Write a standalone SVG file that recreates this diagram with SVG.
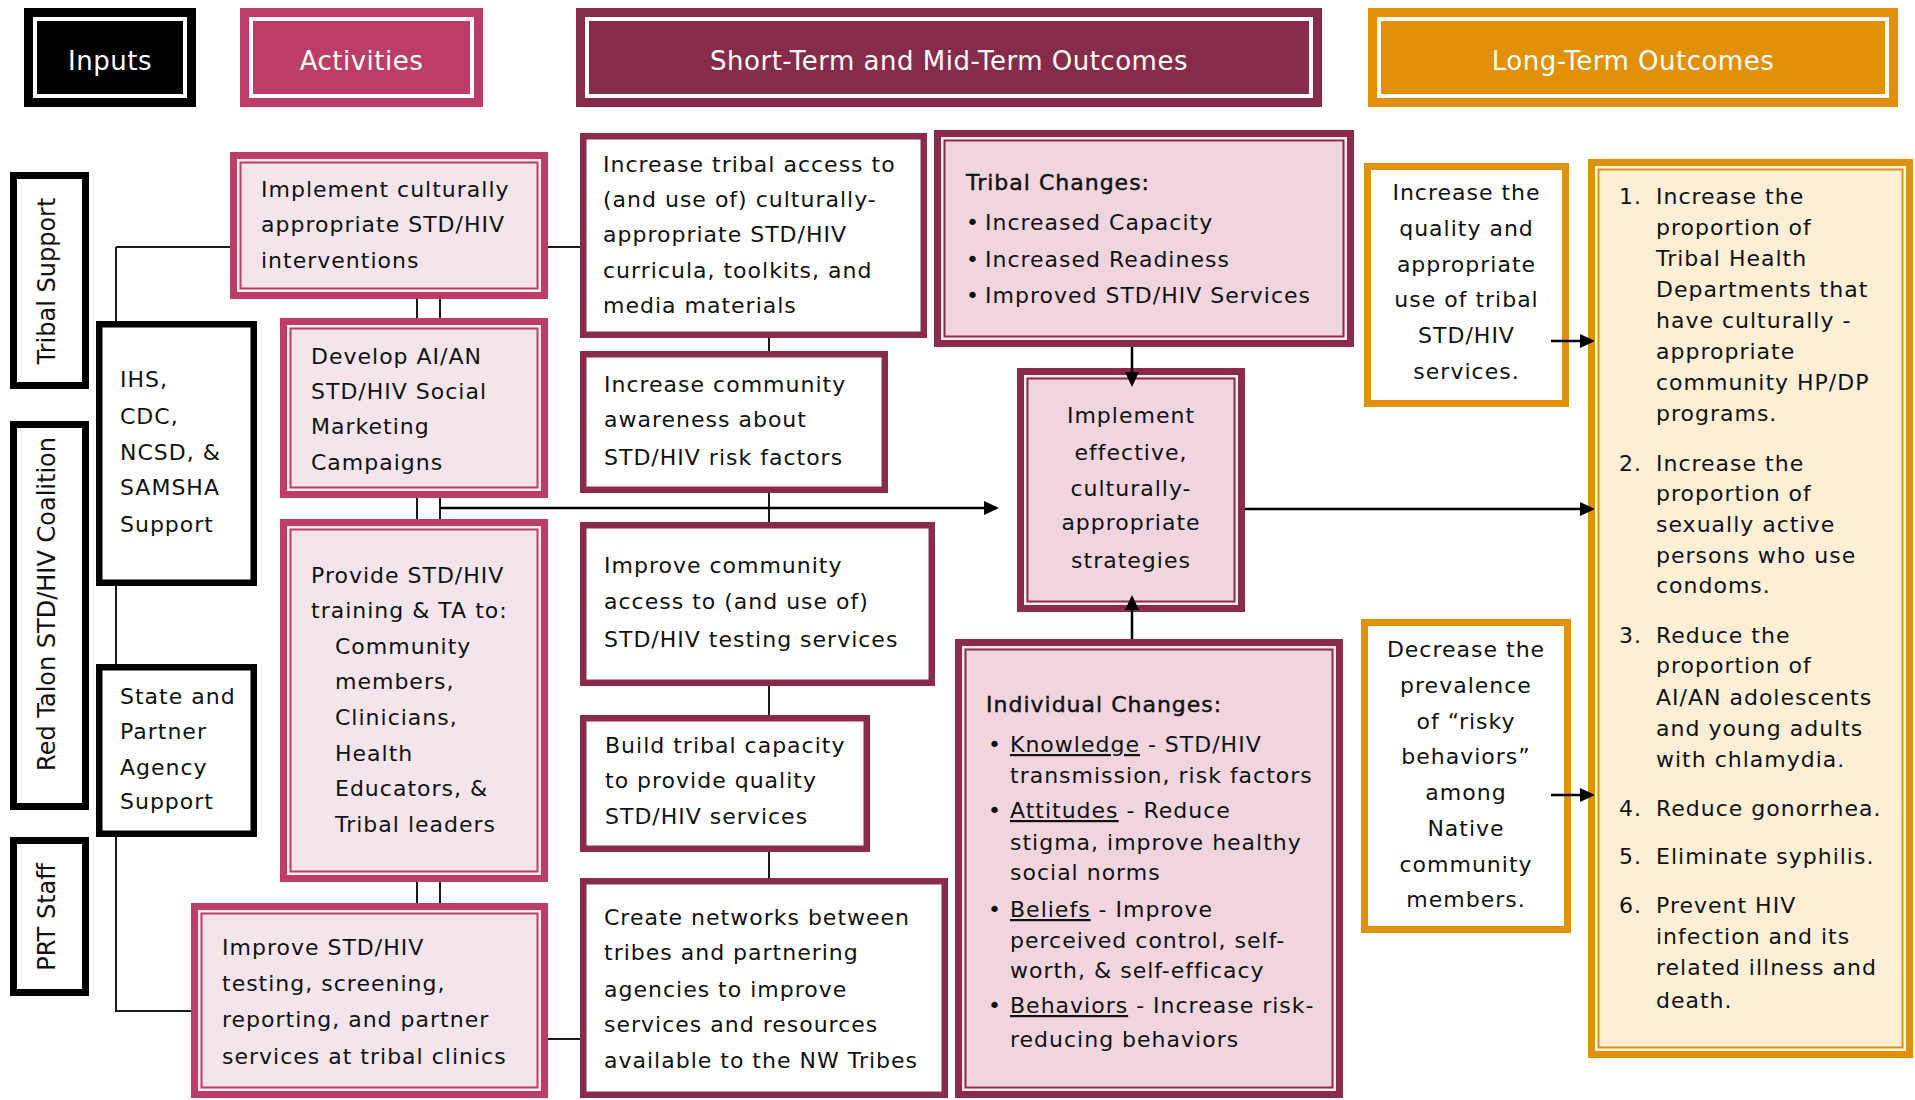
<svg xmlns="http://www.w3.org/2000/svg" width="1915" height="1100" viewBox="0 0 1915 1100">
<style>
text { font-family: "DejaVu Sans", Verdana, sans-serif; fill: #111; }
.t { font-size: 22px; letter-spacing: 1px; }
.c { text-anchor: middle; }
.h { font-size: 26px; letter-spacing: 0.5px; fill: #fff; text-anchor: middle; }
.v { font-size: 24px; text-anchor: middle; }
.sb { stroke: #111; stroke-width: 0.45px; }
.hin { fill: none; stroke: #fff; stroke-width: 4; }
.side { fill: #fff; stroke: #000; stroke-width: 7; }
.inp { fill: #fff; stroke: #000; stroke-width: 6.5; }
.pk { fill: #BC3D68; }
.pkg { fill: #FAF0F4; }
.pki { fill: #F4E4EC; stroke: #BC3D68; stroke-width: 2; }
.mr { fill: #8A2B4C; }
.mrg { fill: #F8ECF0; }
.mri { fill: #F0D5DF; stroke: #8A2B4C; stroke-width: 2; }
.mrp { fill: #fff; stroke: #8A2B4C; stroke-width: 6.5; }
.or { fill: #E09108; }
.org { fill: #FFF8EE; }
.ori { fill: #FDEED6; stroke: #E09108; stroke-width: 2; }
.orp { fill: #fff; stroke: #E09108; stroke-width: 7; }
.ln { stroke: #1a1a1a; stroke-width: 2; fill: none; }
.ar { stroke: #000; stroke-width: 2.5; fill: none; marker-end: url(#ah); }
</style>
<defs>
<marker id="ah" markerUnits="userSpaceOnUse" markerWidth="16" markerHeight="14" refX="12" refY="7" orient="auto">
<path d="M0,0 L15,7 L0,14 Z" fill="#000"/>
</marker>
</defs>

<!-- Headers -->
<g id="hdr-inputs">
<rect x="24" y="8" width="172" height="99" fill="#000"/>
<rect class="hin" x="35" y="19" width="150" height="77"/>
<text class="h" x="110" y="70">Inputs</text>
</g>
<g id="hdr-activities">
<rect x="240" y="8" width="243" height="99" fill="#BC3D68"/>
<rect class="hin" x="251" y="19" width="221" height="77"/>
<text class="h" x="361.5" y="70">Activities</text>
</g>
<g id="hdr-short">
<rect x="576" y="8" width="746" height="99" fill="#872B4B"/>
<rect class="hin" x="587" y="19" width="724" height="77"/>
<text class="h" x="949" y="70">Short-Term and Mid-Term Outcomes</text>
</g>
<g id="hdr-long">
<rect x="1368" y="8" width="530" height="99" fill="#E09108"/>
<rect class="hin" x="1379" y="19" width="508" height="77"/>
<text class="h" x="1633" y="70">Long-Term Outcomes</text>
</g>

<!-- Side labels -->
<g id="side-tribal">
<rect class="side" x="13.5" y="175.5" width="72" height="210"/>
<text class="v" transform="rotate(-90 55 281)" x="55" y="281">Tribal Support</text>
</g>
<g id="side-redtalon">
<rect class="side" x="13.5" y="424.5" width="72" height="382"/>
<text class="v" transform="rotate(-90 55 604)" x="55" y="604">Red Talon STD/HIV Coalition</text>
</g>
<g id="side-prt">
<rect class="side" x="13.5" y="840.5" width="72" height="152"/>
<text class="v" transform="rotate(-90 55 917)" x="55" y="917">PRT Staff</text>
</g>

<!-- Inputs -->
<g id="in-ihs">
<rect class="inp" x="99.25" y="324.25" width="154.5" height="258.5"/>
<text class="t"><tspan x="120" y="387">IHS,</tspan><tspan x="120" y="424">CDC,</tspan><tspan x="120" y="460">NCSD, &amp;</tspan><tspan x="120" y="495">SAMSHA</tspan><tspan x="120" y="532">Support</tspan></text>
</g>
<g id="in-state">
<rect class="inp" x="99.25" y="667.25" width="154.5" height="166.5"/>
<text class="t"><tspan x="120" y="704">State and</tspan><tspan x="120" y="739">Partner</tspan><tspan x="120" y="775">Agency</tspan><tspan x="120" y="809">Support</tspan></text>
</g>

<!-- Activities -->
<g id="act-implement">
<rect class="pk" x="230" y="152" width="318" height="147"/>
<rect class="pkg" x="237" y="159" width="304" height="133"/>
<rect class="pki" x="240.5" y="162.5" width="297" height="126"/>
<text class="t"><tspan x="261" y="197">Implement culturally</tspan><tspan x="261" y="232">appropriate STD/HIV</tspan><tspan x="261" y="268">interventions</tspan></text>
</g>
<g id="act-develop">
<rect class="pk" x="280" y="318" width="268" height="180"/>
<rect class="pkg" x="287" y="325" width="254" height="166"/>
<rect class="pki" x="290.5" y="328.5" width="247" height="159"/>
<text class="t"><tspan x="311" y="364">Develop AI/AN</tspan><tspan x="311" y="399">STD/HIV Social</tspan><tspan x="311" y="434">Marketing</tspan><tspan x="311" y="470">Campaigns</tspan></text>
</g>
<g id="act-provide">
<rect class="pk" x="280" y="519" width="268" height="363"/>
<rect class="pkg" x="287" y="526" width="254" height="349"/>
<rect class="pki" x="290.5" y="529.5" width="247" height="342"/>
<text class="t"><tspan x="311" y="583">Provide STD/HIV</tspan><tspan x="311" y="618">training &amp; TA to:</tspan><tspan x="335" y="654">Community</tspan><tspan x="335" y="689">members,</tspan><tspan x="335" y="725">Clinicians,</tspan><tspan x="335" y="761">Health</tspan><tspan x="335" y="796">Educators, &amp;</tspan><tspan x="335" y="832">Tribal leaders</tspan></text>
</g>
<g id="act-improve">
<rect class="pk" x="191" y="903" width="357" height="195"/>
<rect class="pkg" x="198" y="910" width="343" height="181"/>
<rect class="pki" x="201.5" y="913.5" width="336" height="174"/>
<text class="t"><tspan x="222" y="955">Improve STD/HIV</tspan><tspan x="222" y="991">testing, screening,</tspan><tspan x="222" y="1027">reporting, and partner</tspan><tspan x="222" y="1064">services at tribal clinics</tspan></text>
</g>

<!-- Short / mid-term outcomes -->
<g id="out-access">
<rect class="mrp" x="583.25" y="136.25" width="340.5" height="198.5"/>
<text class="t"><tspan x="603" y="172">Increase tribal access to</tspan><tspan x="603" y="207">(and use of) culturally-</tspan><tspan x="603" y="242">appropriate STD/HIV</tspan><tspan x="603" y="278">curricula, toolkits, and</tspan><tspan x="603" y="313">media materials</tspan></text>
</g>
<g id="out-awareness">
<rect class="mrp" x="583.25" y="354.25" width="301.5" height="135.5"/>
<text class="t"><tspan x="604" y="392">Increase community</tspan><tspan x="604" y="427">awareness about</tspan><tspan x="604" y="465">STD/HIV risk factors</tspan></text>
</g>
<g id="out-testing">
<rect class="mrp" x="583.25" y="525.25" width="348.5" height="157.5"/>
<text class="t"><tspan x="604" y="573">Improve community</tspan><tspan x="604" y="609">access to (and use of)</tspan><tspan x="604" y="647">STD/HIV testing services</tspan></text>
</g>
<g id="out-capacity">
<rect class="mrp" x="583.25" y="718.25" width="283.5" height="130.5"/>
<text class="t"><tspan x="605" y="753">Build tribal capacity</tspan><tspan x="605" y="788">to provide quality</tspan><tspan x="605" y="824">STD/HIV services</tspan></text>
</g>
<g id="out-networks">
<rect class="mrp" x="583.25" y="881.25" width="361.5" height="213.5"/>
<text class="t"><tspan x="604" y="925">Create networks between</tspan><tspan x="604" y="960">tribes and partnering</tspan><tspan x="604" y="997">agencies to improve</tspan><tspan x="604" y="1032">services and resources</tspan><tspan x="604" y="1068">available to the NW Tribes</tspan></text>
</g>
<g id="out-tribal-changes">
<rect class="mr" x="934" y="130" width="420" height="217"/>
<rect class="mrg" x="941" y="137" width="406" height="203"/>
<rect class="mri" x="944.5" y="140.5" width="399" height="196"/>
<text class="t sb" x="966" y="190">Tribal Changes:</text>
<text class="t"><tspan x="966" y="230">•</tspan><tspan x="985" y="230">Increased Capacity</tspan><tspan x="966" y="267">•</tspan><tspan x="985" y="267">Increased Readiness</tspan><tspan x="966" y="303">•</tspan><tspan x="985" y="303">Improved STD/HIV Services</tspan></text>
</g>
<g id="out-strategies">
<rect class="mr" x="1017" y="368" width="228" height="244"/>
<rect class="mrg" x="1024" y="375" width="214" height="230"/>
<rect class="mri" x="1027.5" y="378.5" width="207" height="223"/>
<text class="t c"><tspan x="1131" y="423">Implement</tspan><tspan x="1131" y="460">effective,</tspan><tspan x="1131" y="496">culturally-</tspan><tspan x="1131" y="530">appropriate</tspan><tspan x="1131" y="568">strategies</tspan></text>
</g>
<g id="out-individual-changes">
<rect class="mr" x="955" y="639" width="388" height="459"/>
<rect class="mrg" x="962" y="646" width="374" height="445"/>
<rect class="mri" x="965.5" y="649.5" width="367" height="438"/>
<text class="t sb" x="986" y="712">Individual Changes:</text>
<text class="t">
<tspan x="988" y="752">•</tspan><tspan x="1010" y="752"><tspan text-decoration="underline">Knowledge</tspan> - STD/HIV</tspan>
<tspan x="1010" y="783">transmission, risk factors</tspan>
<tspan x="988" y="818">•</tspan><tspan x="1010" y="818"><tspan text-decoration="underline">Attitudes</tspan> - Reduce</tspan>
<tspan x="1010" y="850">stigma, improve healthy</tspan>
<tspan x="1010" y="880">social norms</tspan>
<tspan x="988" y="917">•</tspan><tspan x="1010" y="917"><tspan text-decoration="underline">Beliefs</tspan> - Improve</tspan>
<tspan x="1010" y="948">perceived control, self-</tspan>
<tspan x="1010" y="978">worth, &amp; self-efficacy</tspan>
<tspan x="988" y="1013">•</tspan><tspan x="1010" y="1013"><tspan text-decoration="underline">Behaviors</tspan> - Increase risk-</tspan>
<tspan x="1010" y="1047">reducing behaviors</tspan>
</text>
</g>

<!-- Long-term outcomes -->
<g id="lt-quality">
<rect class="orp" x="1367.5" y="166.5" width="198" height="237"/>
<text class="t c"><tspan x="1466.5" y="200">Increase the</tspan><tspan x="1466.5" y="236">quality and</tspan><tspan x="1466.5" y="272">appropriate</tspan><tspan x="1466.5" y="307">use of tribal</tspan><tspan x="1466.5" y="343">STD/HIV</tspan><tspan x="1466.5" y="379">services.</tspan></text>
</g>
<g id="lt-risky">
<rect class="orp" x="1364.5" y="622.5" width="203" height="307"/>
<text class="t c"><tspan x="1466" y="657">Decrease the</tspan><tspan x="1466" y="693">prevalence</tspan><tspan x="1466" y="729">of “risky</tspan><tspan x="1466" y="764">behaviors”</tspan><tspan x="1466" y="800">among</tspan><tspan x="1466" y="836">Native</tspan><tspan x="1466" y="872">community</tspan><tspan x="1466" y="907">members.</tspan></text>
</g>
<g id="lt-goals">
<rect class="or" x="1588" y="159" width="325" height="899"/>
<rect class="org" x="1595" y="166" width="311" height="885"/>
<rect class="ori" x="1598.5" y="169.5" width="304" height="878"/>
<text class="t">
<tspan x="1619" y="204">1.</tspan><tspan x="1656" y="204">Increase the</tspan>
<tspan x="1656" y="235">proportion of</tspan>
<tspan x="1656" y="266">Tribal Health</tspan>
<tspan x="1656" y="297">Departments that</tspan>
<tspan x="1656" y="328">have culturally -</tspan>
<tspan x="1656" y="359">appropriate</tspan>
<tspan x="1656" y="390">community HP/DP</tspan>
<tspan x="1656" y="421">programs.</tspan>
<tspan x="1619" y="471">2.</tspan><tspan x="1656" y="471">Increase the</tspan>
<tspan x="1656" y="501">proportion of</tspan>
<tspan x="1656" y="532">sexually active</tspan>
<tspan x="1656" y="563">persons who use</tspan>
<tspan x="1656" y="593">condoms.</tspan>
<tspan x="1619" y="643">3.</tspan><tspan x="1656" y="643">Reduce the</tspan>
<tspan x="1656" y="673">proportion of</tspan>
<tspan x="1656" y="705">AI/AN adolescents</tspan>
<tspan x="1656" y="736">and young adults</tspan>
<tspan x="1656" y="767">with chlamydia.</tspan>
<tspan x="1619" y="816">4.</tspan><tspan x="1656" y="816">Reduce gonorrhea.</tspan>
<tspan x="1619" y="864">5.</tspan><tspan x="1656" y="864">Eliminate syphilis.</tspan>
<tspan x="1619" y="913">6.</tspan><tspan x="1656" y="913">Prevent HIV</tspan>
<tspan x="1656" y="944">infection and its</tspan>
<tspan x="1656" y="975">related illness and</tspan>
<tspan x="1656" y="1008">death.</tspan>
</text>
</g>

<!-- Connectors -->
<g id="connectors">
<path class="ln" d="M116,247 H230 M116,247 V321 M116,586 V664 M116,837 V1011 H191"/>
<path class="ln" d="M417,299 V318 M440,299 V318 M417,498 V519 M440,498 V519 M417,882 V903 M440,882 V903"/>
<path class="ln" d="M548,247 H580 M548,1039 H580"/>
<path class="ln" d="M769,338 V351 M769,493 V522 M769,686 V715 M769,852 V878"/>
<path class="ar" d="M440,508 H996"/>
<path class="ar" d="M1132,347 V384"/>
<path class="ar" d="M1132,639 V598"/>
<path class="ar" d="M1245,509 H1592"/>
<path class="ar" d="M1551,341 H1592"/>
<path class="ar" d="M1551,795 H1592"/>
</g>
</svg>
